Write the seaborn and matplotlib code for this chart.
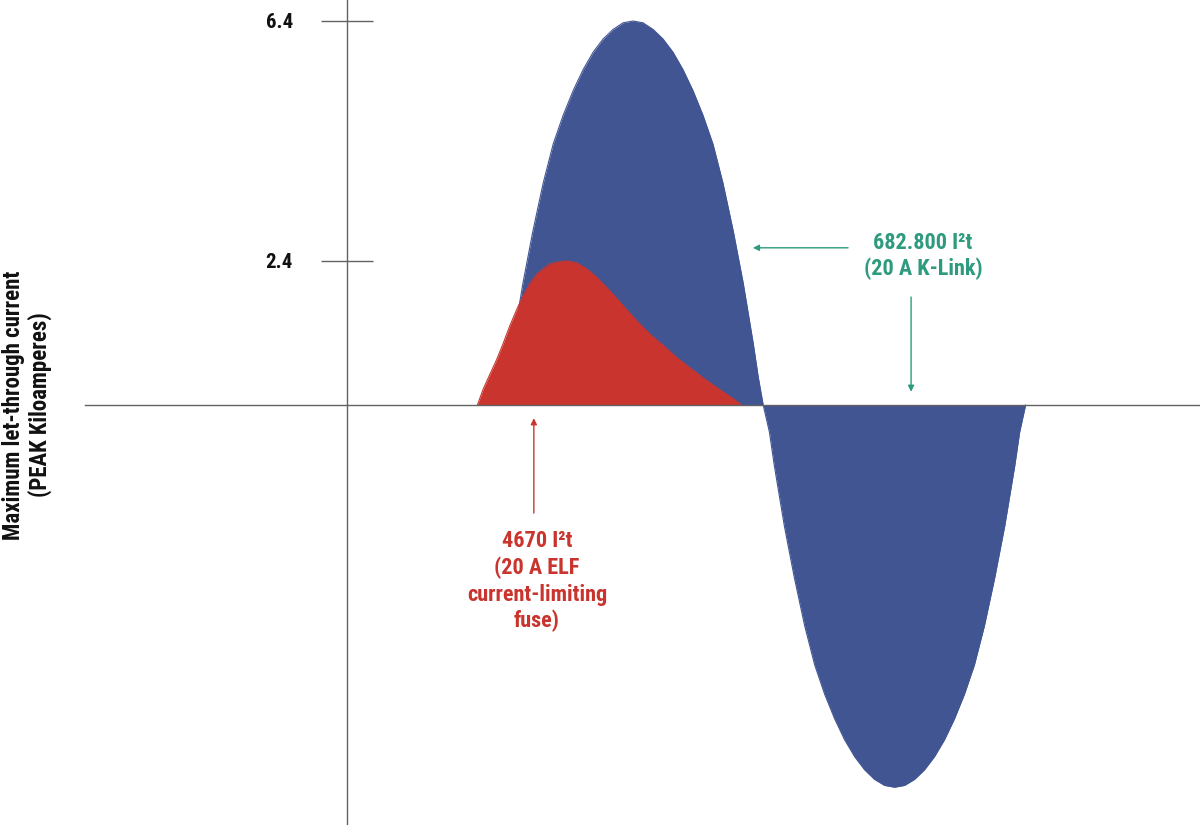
import numpy as np
import pandas as pd
import matplotlib
matplotlib.use("Agg")
import matplotlib.pyplot as plt
import seaborn as sns

# ---- data (time in ms, current in kA) ----
k_link_t = [5.00, 5.16, 5.32, 5.48, 5.64, 5.96, 6.29, 6.61, 6.93, 7.25, 7.57, 7.89, 8.21, 8.53, 8.85, 9.17,
            9.49, 9.81, 10.13, 10.45, 10.77, 11.09, 11.41, 11.73, 12.05, 12.38, 12.70, 12.86, 13.02, 13.18, 13.34,
            13.54, 13.70, 13.86, 14.02, 14.34, 14.67, 14.99, 15.31, 15.63, 15.95, 16.27, 16.59, 16.91, 17.23, 17.55,
            17.87, 18.19, 18.51, 18.83, 19.15, 19.47, 19.79, 20.11, 20.43, 20.76, 21.08, 21.24, 21.40, 21.56, 21.75]
k_link_i = [0.00, 0.47, 1.03, 1.53, 2.03, 2.90, 3.70, 4.35, 4.83, 5.24, 5.59, 5.88, 6.10, 6.26, 6.37, 6.40,
            6.37, 6.26, 6.10, 5.88, 5.59, 5.24, 4.83, 4.35, 3.70, 2.90, 2.03, 1.53, 1.03, 0.47, 0.00,
            -0.45, -1.02, -1.52, -2.02, -2.88, -3.68, -4.33, -4.82, -5.23, -5.58, -5.86, -6.08, -6.24, -6.34, -6.37,
            -6.34, -6.24, -6.08, -5.86, -5.58, -5.23, -4.82, -4.33, -3.68, -2.88, -2.02, -1.52, -1.02, -0.45, 0.00]

elf_t = [4.18, 4.37, 4.58, 4.80, 5.01, 5.22, 5.44, 5.65, 5.87, 6.08, 6.29, 6.51, 6.72, 7.04, 7.36, 7.68,
         8.00, 8.32, 8.64, 8.96, 9.29, 9.71, 10.14, 10.57, 10.99, 11.42, 11.85, 12.28, 12.65]
elf_i = [0.00, 0.27, 0.51, 0.76, 1.03, 1.32, 1.59, 1.83, 2.03, 2.18, 2.27, 2.35, 2.38, 2.40, 2.37, 2.27,
         2.13, 1.96, 1.78, 1.59, 1.40, 1.18, 0.99, 0.79, 0.62, 0.45, 0.29, 0.14, 0.00]

y_ticks = [6.4, 2.4]
y_tick_labels = ["6.4", "2.4"]

k_link_label = "682.800 I\u00b2t\n(20 A K-Link)"
elf_label = "4670 I\u00b2t\n(20 A ELF\ncurrent-limiting\nfuse)"
y_label = "Maximum let-through current\n(PEAK Kiloamperes)"

BLUE = "#415593"
RED = "#C9352E"
GREEN = "#2E9B7E"
AXIS = "#626262"

sns.set_theme(style="white")
FONT = ["Liberation Sans Narrow", "Roboto Condensed", "DejaVu Sans"]
plt.rcParams["font.family"] = FONT

k_df = pd.DataFrame({"t": k_link_t, "i": k_link_i})
e_df = pd.DataFrame({"t": elf_t, "i": elf_i})

fig = plt.figure(figsize=(12, 8.25), dpi=100)
ax = fig.add_axes([0, 0, 1, 1])

# filled waves
ax.fill_between(k_df["t"], 0, k_df["i"], color=BLUE, lw=0, zorder=2)
sns.lineplot(data=k_df, x="t", y="i", color=BLUE, lw=0.8, sort=False, ax=ax, zorder=2)
ax.fill_between(e_df["t"], 0, e_df["i"], color=RED, lw=0, zorder=3)
sns.lineplot(data=e_df, x="t", y="i", color=RED, lw=0.8, sort=False, ax=ax, zorder=3)

ax.set_xlim(-11.12, 27.34)
ax.set_ylim(-7.0, 6.75)

# axes through the origin
for s in ["top", "right"]:
    ax.spines[s].set_visible(False)
ax.spines["left"].set_position(("data", 0))
ax.spines["bottom"].set_position(("data", 0))
ax.spines["bottom"].set_bounds(-8.40, 27.34)
for s in ["left", "bottom"]:
    ax.spines[s].set_color(AXIS)
    ax.spines[s].set_linewidth(1.0)
    ax.spines[s].set_zorder(4)

ax.set_xticks([])
ax.set_yticks(y_ticks)
ax.set_yticklabels(y_tick_labels, fontsize=15, fontweight="bold", family=FONT)
ax.tick_params(axis="y", left=True, direction="inout", length=38, width=1.0, color=AXIS, pad=20,
               labelcolor="#111111")
ax.set_xlabel("")
ax.set_ylabel("")

# annotations
arrow = dict(arrowstyle="-|>", lw=1.0, mutation_scale=9, shrinkA=0, shrinkB=0)
ax.annotate("", xy=(13.01, 2.62), xytext=(16.06, 2.62), arrowprops={**arrow, "color": GREEN}, zorder=5)
ax.annotate("", xy=(18.08, 0.22), xytext=(18.08, 1.80), arrowprops={**arrow, "color": GREEN}, zorder=5)
ax.annotate("", xy=(5.99, -0.22), xytext=(5.99, -1.80), arrowprops={**arrow, "color": RED}, zorder=5)

ax.text(18.46, 2.49, k_link_label, color=GREEN, fontsize=16, fontweight="bold",
        ha="center", va="center", multialignment="center", linespacing=1.2, family=FONT)
ax.text(6.09, -2.94, elf_label, color=RED, fontsize=16, fontweight="bold",
        ha="center", va="center", multialignment="center", linespacing=1.25, family=FONT)
ax.text(-10.25, 0.0, y_label, color="#111111", fontsize=16.5, fontweight="bold", rotation=90,
        ha="center", va="center", multialignment="center", linespacing=1.15, family=FONT)

fig.savefig("out.png", dpi=100, facecolor="white")
